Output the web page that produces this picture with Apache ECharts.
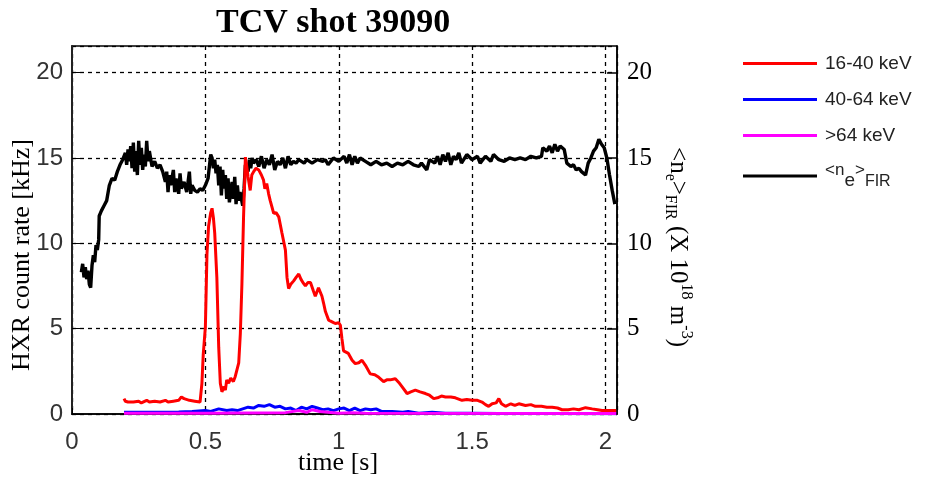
<!DOCTYPE html>
<html>
<head>
<meta charset="utf-8">
<title>TCV shot 39090</title>
<script src="https://cdn.jsdelivr.net/npm/echarts@6/dist/echarts.min.js"></script>
<style>
  html, body { margin: 0; padding: 0; background: #fff; }
  #chart { width: 931px; height: 479px; }
</style>
</head>
<body>
<div id="chart"></div>
<script>
// series names (legend order)
const seriesNames = ['16-40 keV', '40-64 keV', '>64 keV', '<ne>FIR'];

// axis ticks
const yTicks = [0, 5, 10, 15, 20];
const xTicks = [0, 0.5, 1, 1.5, 2];

// HXR 16-40 keV [time s, kHz]
const hxrLow = [
  [0.195, 0.9], [0.2, 0.75], [0.21, 0.7], [0.23, 0.7], [0.25, 0.75], [0.26, 0.65], [0.28, 0.8],
  [0.29, 0.7], [0.31, 0.75], [0.33, 0.7], [0.35, 0.8], [0.36, 0.7], [0.38, 0.75], [0.4, 0.8],
  [0.41, 1.0], [0.42, 0.9], [0.44, 0.8], [0.46, 0.75], [0.48, 0.7], [0.487, 1.8], [0.492, 3.5],
  [0.5, 5.1], [0.506, 9.4], [0.512, 11.0], [0.52, 11.8], [0.525, 12.05], [0.53, 11.5],
  [0.535, 10.6], [0.543, 8.0], [0.55, 3.9], [0.556, 1.8], [0.562, 1.3], [0.57, 1.6], [0.575, 1.4],
  [0.58, 2.0], [0.587, 1.8], [0.595, 2.1], [0.605, 1.9], [0.612, 2.2], [0.625, 3.0], [0.631, 4.7],
  [0.637, 7.65], [0.643, 11.5], [0.65, 15.05], [0.655, 14.5], [0.66, 13.9], [0.668, 13.1],
  [0.674, 14.0], [0.681, 14.2], [0.69, 14.4], [0.7, 14.3], [0.71, 14.0], [0.718, 13.7],
  [0.723, 13.2], [0.73, 13.5], [0.737, 12.9], [0.743, 12.5], [0.75, 12.1], [0.756, 11.75],
  [0.765, 11.8], [0.775, 11.55], [0.787, 10.6], [0.8, 9.6], [0.806, 8.0], [0.812, 7.35],
  [0.82, 7.6], [0.831, 7.8], [0.84, 8.0], [0.85, 8.2], [0.858, 7.9], [0.868, 7.65], [0.875, 7.5],
  [0.884, 7.7], [0.894, 7.7], [0.905, 7.2], [0.912, 6.9], [0.918, 6.85], [0.924, 7.4], [0.93, 7.45],
  [0.937, 6.9], [0.943, 6.5], [0.95, 6.0], [0.962, 5.5], [0.975, 5.4], [0.987, 5.3], [1.0, 5.35],
  [1.006, 5.2], [1.012, 4.4], [1.018, 3.7], [1.036, 3.55], [1.05, 3.15], [1.062, 2.95],
  [1.075, 3.0], [1.087, 3.15], [1.1, 2.85], [1.118, 2.35], [1.135, 2.3], [1.15, 2.15],
  [1.168, 1.9], [1.18, 2.0], [1.193, 2.0], [1.212, 2.07], [1.225, 1.85], [1.237, 1.6],
  [1.256, 1.2], [1.27, 1.3], [1.287, 1.4], [1.305, 1.3], [1.325, 1.2], [1.34, 1.1], [1.356, 0.9],
  [1.37, 0.95], [1.385, 1.05], [1.4, 1.0], [1.42, 1.0], [1.437, 0.95], [1.462, 0.8], [1.48, 0.85],
  [1.5, 0.8], [1.52, 0.8], [1.537, 0.7], [1.55, 0.55], [1.562, 0.45], [1.575, 0.6], [1.59, 0.65],
  [1.6, 0.9], [1.61, 0.6], [1.625, 0.45], [1.645, 0.6], [1.66, 0.5], [1.675, 0.6], [1.7, 0.5],
  [1.72, 0.55], [1.737, 0.45], [1.76, 0.45], [1.78, 0.4], [1.8, 0.4], [1.82, 0.35], [1.837, 0.25],
  [1.86, 0.25], [1.88, 0.3], [1.9, 0.25], [1.925, 0.37], [1.95, 0.3], [1.97, 0.25], [1.987, 0.2],
  [2.01, 0.2], [2.04, 0.2]
];

// HXR 40-64 keV
const hxrMid = [
  [0.195, 0.1], [0.3, 0.1], [0.4, 0.12], [0.45, 0.15], [0.5, 0.2], [0.52, 0.15], [0.55, 0.3],
  [0.58, 0.2], [0.6, 0.25], [0.62, 0.2], [0.64, 0.3], [0.66, 0.4], [0.68, 0.35], [0.7, 0.5],
  [0.72, 0.45], [0.74, 0.55], [0.76, 0.4], [0.78, 0.45], [0.8, 0.3], [0.82, 0.35], [0.84, 0.2],
  [0.86, 0.4], [0.88, 0.3], [0.9, 0.45], [0.92, 0.35], [0.94, 0.25], [0.96, 0.3], [0.98, 0.2],
  [1.0, 0.3], [1.02, 0.35], [1.04, 0.2], [1.06, 0.35], [1.08, 0.2], [1.1, 0.3], [1.12, 0.25],
  [1.14, 0.3], [1.16, 0.15], [1.2, 0.15], [1.24, 0.1], [1.26, 0.15], [1.3, 0.05], [1.35, 0.1],
  [1.4, 0.05], [1.5, 0.05], [1.6, 0.03], [1.8, 0.03], [2.04, 0.02]
];

// HXR >64 keV
const hxrHigh = [
  [0.195, 0.05], [0.5, 0.05], [0.8, 0.08], [0.85, 0.2], [0.88, 0.1], [0.9, 0.25], [0.93, 0.15],
  [0.96, 0.1], [1.0, 0.05], [1.05, 0.08], [1.1, 0.05], [2.04, 0.03]
];

// line-averaged density <ne>FIR (x 10^18 m^-3)
const neFir = [
  [0.035, 8.3], [0.04, 8.8], [0.045, 8.0], [0.05, 8.6], [0.055, 7.9], [0.06, 8.4], [0.065, 7.6],
  [0.07, 7.4], [0.075, 8.7], [0.08, 9.3], [0.085, 8.9], [0.09, 9.9], [0.095, 9.6], [0.1, 10.2],
  [0.102, 11.6], [0.11, 11.9], [0.12, 12.2], [0.13, 12.5], [0.14, 13.4], [0.15, 13.8], [0.16, 13.7],
  [0.17, 14.2], [0.18, 14.6], [0.19, 14.9], [0.2, 15.3], [0.205, 14.6], [0.21, 15.5], [0.215, 14.8],
  [0.22, 15.7], [0.225, 14.4], [0.23, 15.9], [0.235, 14.2], [0.24, 15.4], [0.245, 14.0], [0.25, 16.0],
  [0.255, 14.6], [0.26, 15.6], [0.265, 14.3], [0.27, 15.2], [0.275, 14.5], [0.28, 16.0], [0.285, 14.8],
  [0.29, 15.4], [0.3, 14.5], [0.31, 14.8], [0.32, 14.4], [0.33, 14.6], [0.34, 14.2], [0.35, 13.6],
  [0.355, 14.2], [0.36, 13.0], [0.365, 14.0], [0.37, 13.4], [0.38, 14.3], [0.385, 13.0], [0.39, 13.8],
  [0.4, 12.9], [0.405, 14.1], [0.41, 13.2], [0.42, 13.6], [0.43, 13.0], [0.44, 14.2], [0.445, 12.9],
  [0.45, 13.4], [0.46, 13.1], [0.47, 13.0], [0.48, 13.2], [0.49, 13.1], [0.5, 13.4], [0.51, 13.8],
  [0.52, 15.2], [0.525, 15.0], [0.53, 14.4], [0.535, 14.9], [0.54, 14.1], [0.545, 14.6], [0.55, 13.4],
  [0.555, 14.5], [0.56, 12.8], [0.565, 14.3], [0.57, 13.2], [0.575, 14.0], [0.58, 12.6], [0.585, 13.8],
  [0.59, 12.4], [0.6, 13.6], [0.605, 12.6], [0.61, 13.9], [0.615, 12.3], [0.62, 13.4], [0.625, 12.5],
  [0.63, 13.0], [0.64, 12.2], [0.645, 13.2], [0.65, 14.6], [0.66, 14.2], [0.665, 14.9], [0.67, 14.4],
  [0.675, 15.0], [0.68, 14.7], [0.69, 14.9], [0.7, 14.5], [0.71, 15.1], [0.72, 14.4], [0.73, 14.9],
  [0.74, 14.6], [0.75, 15.2], [0.76, 14.3], [0.77, 14.8], [0.78, 14.6], [0.79, 15.0], [0.8, 14.4],
  [0.81, 15.1], [0.82, 14.6], [0.83, 14.8], [0.84, 14.7], [0.85, 14.9], [0.86, 14.8], [0.87, 14.7],
  [0.88, 14.9], [0.9, 14.7], [0.92, 14.9], [0.94, 14.8], [0.95, 14.9], [0.96, 14.6], [0.98, 15.0],
  [1.0, 14.8], [1.02, 15.1], [1.03, 14.7], [1.04, 15.2], [1.05, 14.6], [1.06, 15.1], [1.07, 14.7],
  [1.08, 15.0], [1.1, 14.8], [1.12, 14.6], [1.14, 14.8], [1.16, 14.6], [1.18, 14.7], [1.2, 14.5],
  [1.22, 14.7], [1.24, 14.6], [1.26, 14.8], [1.28, 14.6], [1.3, 14.5], [1.31, 14.7], [1.33, 14.3],
  [1.34, 14.9], [1.36, 14.7], [1.37, 15.1], [1.38, 14.6], [1.39, 15.2], [1.4, 14.8], [1.41, 15.3],
  [1.42, 14.6], [1.43, 15.1], [1.44, 14.9], [1.45, 15.3], [1.46, 14.7], [1.48, 15.2], [1.5, 14.9],
  [1.52, 15.1], [1.53, 14.7], [1.55, 15.1], [1.57, 14.8], [1.58, 15.2], [1.6, 14.9], [1.62, 14.8],
  [1.64, 15.0], [1.66, 14.9], [1.68, 15.0], [1.7, 14.9], [1.72, 15.1], [1.74, 15.0], [1.76, 15.1],
  [1.765, 15.6], [1.78, 15.4], [1.79, 15.7], [1.8, 15.3], [1.81, 15.8], [1.82, 15.4], [1.83, 15.7],
  [1.845, 15.5], [1.855, 14.7], [1.87, 14.5], [1.88, 14.6], [1.89, 14.3], [1.9, 14.4], [1.91, 14.2],
  [1.925, 14.0], [1.935, 14.7], [1.945, 15.0], [1.955, 15.4], [1.965, 15.6], [1.975, 16.1],
  [1.985, 15.8], [1.995, 15.6], [2.005, 15.0], [2.015, 14.0], [2.025, 13.1], [2.035, 12.3]
];

const colors = ['#ff0000', '#0000ff', '#ff00ff', '#000000'];
const widths = [3, 3, 3, 3.4];
const serif = '"Liberation Serif", "Times New Roman", serif';
const sans = '"Liberation Sans", Arial, sans-serif';

const chart = echarts.init(document.getElementById('chart'));

// 只显示整刻度
const tickLabel = (list) => (v) => list.indexOf(+v.toFixed(3)) >= 0 ? String(v) : '';

const lineSeries = (name, data, idx, z) => ({
  name: name,
  type: 'line',
  data: data,
  showSymbol: false,
  symbol: 'none',
  z: z,
  animation: false,
  lineStyle: {color: colors[idx], width: widths[idx]},
  itemStyle: {color: colors[idx]}
});

const option = {
  backgroundColor: '#fff',
  animation: false,
  title: {
    text: 'TCV shot 39090',
    left: 211,
    top: 1,
    textStyle: {fontFamily: serif, fontWeight: 'bold', fontSize: 34, color: '#000'}
  },
  legend: {
    orient: 'vertical',
    left: 738,
    top: 49,
    icon: 'rect',
    itemWidth: 74,
    itemHeight: 3,
    itemGap: 17,
    data: seriesNames,
    formatter: (name) => name === '<ne>FIR' ? '{a|<n}{s|e}{a|>}{f|FIR}' : name,
    textStyle: {
      fontFamily: sans, fontSize: 19, color: '#222', padding: [0, 0, 0, 3],
      rich: {
        a: {fontFamily: sans, fontSize: 17, color: '#222', verticalAlign: 'top', lineHeight: 28},
        s: {fontFamily: sans, fontSize: 19, color: '#222', verticalAlign: 'bottom', lineHeight: 28},
        f: {fontFamily: sans, fontSize: 16, color: '#222', verticalAlign: 'bottom', lineHeight: 28}
      }
    }
  },
  grid: {
    left: 72, right: 314, top: 46, bottom: 65,
    show: true, borderColor: '#000', borderWidth: 1.5
  },
  xAxis: {
    type: 'value',
    min: 0,
    max: 2.043,
    interval: 0.5,
    axisLine: {lineStyle: {color: '#000', width: 1.5}},
    axisTick: {inside: true, length: 6, lineStyle: {color: '#000'}},
    axisLabel: {
      fontFamily: sans, fontSize: 24, color: '#333', margin: 16,
      showMaxLabel: false, formatter: tickLabel(xTicks)
    },
    splitLine: {show: true, lineStyle: {color: '#000', type: [4, 4], width: 1.3}}
  },
  yAxis: [
    {
      type: 'value',
      min: 0,
      max: 21.56,
      interval: 5,
      position: 'left',
      axisLine: {show: true, lineStyle: {color: '#222', width: 2}},
      axisTick: {show: true, inside: true, length: 8, lineStyle: {color: '#000'}},
      axisLabel: {
        fontFamily: sans, fontSize: 24, color: '#333', margin: 9,
        showMaxLabel: false, formatter: tickLabel(yTicks)
      },
      splitLine: {show: true, lineStyle: {color: '#000', type: [4, 4], width: 1.3}}
    },
    {
      type: 'value',
      min: 0,
      max: 21.56,
      interval: 5,
      position: 'right',
      axisLine: {show: true, lineStyle: {color: '#000', width: 1.5}},
      axisTick: {show: true, inside: true, length: 10, lineStyle: {color: '#000', width: 1.5}},
      axisLabel: {
        fontFamily: serif, fontSize: 25, color: '#000', margin: 10,
        showMaxLabel: false, formatter: tickLabel(yTicks)
      },
      splitLine: {show: false}
    }
  ],
  graphic: [
    {
      type: 'text',
      x: 22, y: 255,
      rotation: Math.PI / 2,
      style: {
        text: 'HXR count rate [kHz]',
        font: '26px ' + serif,
        fill: '#000',
        align: 'center',
        verticalAlign: 'middle'
      }
    },
    {
      type: 'text',
      x: 338, y: 463,
      style: {
        text: 'time [s]',
        font: '26px ' + serif,
        fill: '#000',
        align: 'center',
        verticalAlign: 'middle'
      }
    },
    {
      type: 'text',
      x: 678, y: 247,
      rotation: -Math.PI / 2,
      style: {
        text: '{n|<n}{s|e}{n|>}{s|FIR}{n| (X 10}{p|18}{n| m}{p|-3}{n|)}',
        align: 'center',
        verticalAlign: 'middle',
        fill: '#000',
        rich: {
          n: {fontFamily: serif, fontSize: 25, fill: '#000', verticalAlign: 'middle', lineHeight: 32},
          s: {fontFamily: serif, fontSize: 16, fill: '#000', verticalAlign: 'bottom', lineHeight: 32},
          p: {fontFamily: serif, fontSize: 16, fill: '#000', verticalAlign: 'top', lineHeight: 32}
        }
      }
    }
  ],
  series: [
    lineSeries(seriesNames[0], hxrLow, 0, 4),
    lineSeries(seriesNames[1], hxrMid, 1, 5),
    lineSeries(seriesNames[2], hxrHigh, 2, 6),
    lineSeries(seriesNames[3], neFir, 3, 3)
  ]
};

chart.setOption(option);
</script>
</body>
</html>
